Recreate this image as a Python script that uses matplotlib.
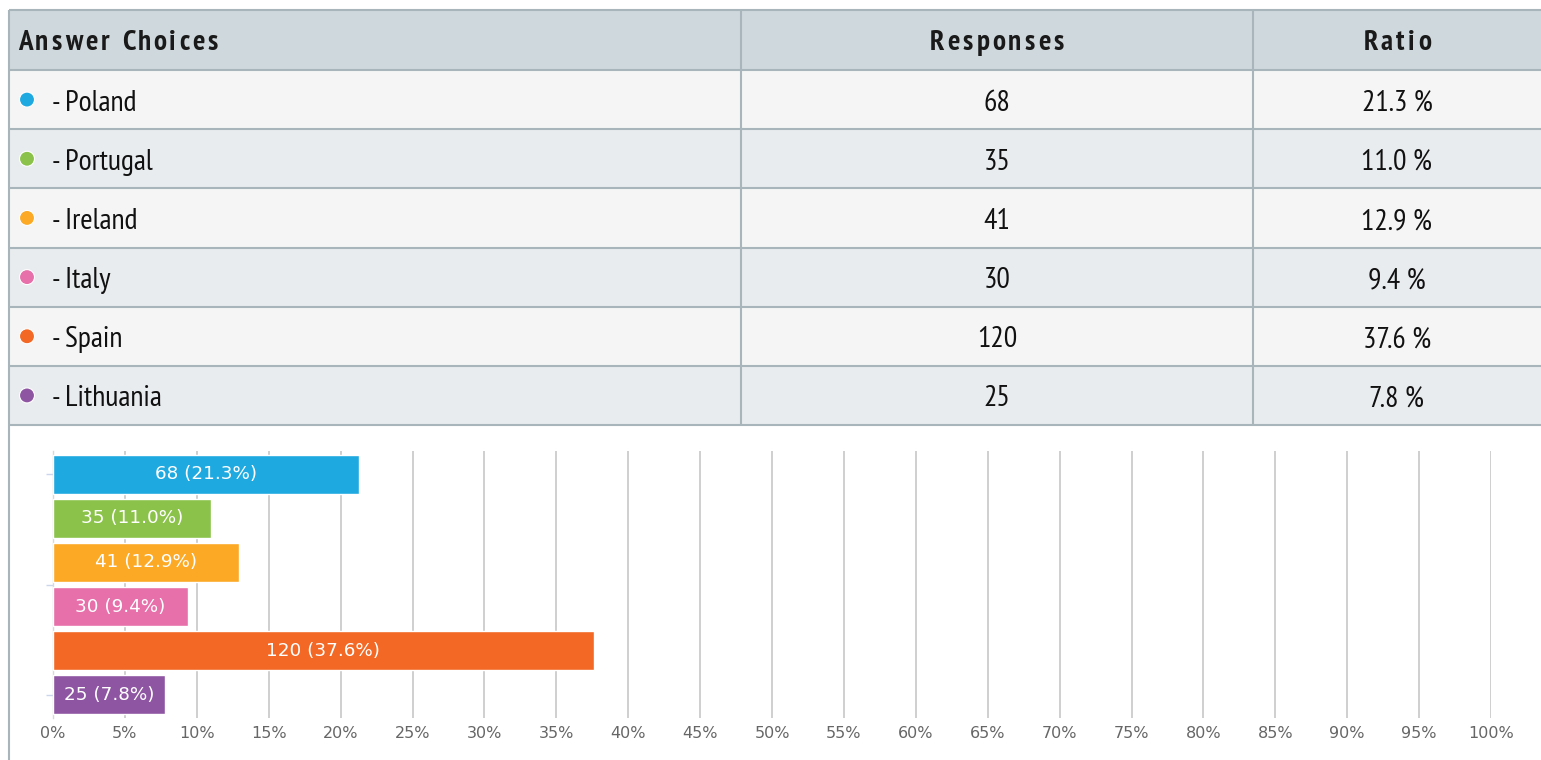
import matplotlib
matplotlib.use("Agg")
import matplotlib.pyplot as plt
from matplotlib.patches import Rectangle, Circle

# data
choices = ["Poland", "Portugal", "Ireland", "Italy", "Spain", "Lithuania"]
responses = [68, 35, 41, 30, 120, 25]
ratios = [21.3, 11.0, 12.9, 9.4, 37.6, 7.8]
colors = ["#1fa9e1", "#8bc34a", "#fca926", "#e76faa", "#f26824", "#8e56a2"]
headers = ["Answer Choices", "Responses", "Ratio"]
xticks = list(range(0, 101, 5))

W, H = 1541, 760
NARROW = ["PT Sans Narrow", "DejaVu Sans"]
border = "#a8b6bb"

fig = plt.figure(figsize=(W / 100, H / 100), dpi=100)
fig.patch.set_facecolor("white")

# background axes in pixel coordinates for the table
bg = fig.add_axes([0, 0, 1, 1])
bg.set_xlim(0, W)
bg.set_ylim(H, 0)
bg.axis("off")

left, col1, col2, right = 9, 741, 1253, W
top, head_bot, row_h = 10, 70, 59.17
row_bounds = [head_bot + i * row_h for i in range(len(choices) + 1)]

bg.add_patch(Rectangle((left, top), right - left, head_bot - top, color="#cfd8dc", lw=0))
for i in range(len(choices)):
    fc = "#f5f5f5" if i % 2 == 0 else "#e8ecee"
    bg.add_patch(Rectangle((left, row_bounds[i]), right - left, row_h, color=fc, lw=0))

lw = 1.5
bg.hlines([top] + row_bounds, left, right, color=border, lw=lw)
bg.vlines([col1, col2], top, row_bounds[-1], color=border, lw=lw)
bg.vlines(left, top, H, color=border, lw=lw)

renderer = fig.canvas.get_renderer()


def spaced_text(x, y, s, spacing, ha="left", **kw):
    # draw letter-spaced text char by char
    t = bg.text(0, 0, "xx", **kw)
    wx = t.get_window_extent(renderer).width
    t.remove()
    widths = []
    for ch in s:
        t = bg.text(0, 0, "x" + ch + "x", **kw)
        widths.append(t.get_window_extent(renderer).width - wx)
        t.remove()
    total = sum(widths) + spacing * (len(s) - 1)
    x0 = x if ha == "left" else x - total / 2
    for ch, w in zip(s, widths):
        bg.text(x0, y, ch, ha="left", va="center", **kw)
        x0 += w + spacing


hy = (top + head_bot) / 2 + 3.5
hkw = dict(family=NARROW, fontsize=21, fontweight="bold", color="#1a1a1a")
spaced_text(18, hy, headers[0], 3.3, **hkw)
spaced_text((col1 + col2) / 2, hy, headers[1], 3.3, ha="center", **hkw)
spaced_text((col2 + right) / 2, hy, headers[2], 3.3, ha="center", **hkw)

for i, (name, n, p) in enumerate(zip(choices, responses, ratios)):
    yc = row_bounds[i] + row_h / 2 + 3.5
    bg.add_patch(Circle((27, yc - 3.5), 7.5, facecolor=colors[i], edgecolor="white", lw=0.8))
    bg.text(52, yc, "- " + name, ha="left", va="center", family=NARROW, fontsize=21.5, color="#111111")
    bg.text((col1 + col2) / 2, yc, str(n), ha="center", va="center", family=NARROW, fontsize=21.5, color="#111111")
    bg.text((col2 + right) / 2, yc, f"{p:.1f} %", ha="center", va="center", family=NARROW, fontsize=21.5, color="#111111")

# bar chart
ax_l, ax_r, ax_t, ax_b = 53, 1491, 451, 718
ax = fig.add_axes([ax_l / W, (H - ax_b) / H, (ax_r - ax_l) / W, (ax_b - ax_t) / H])
ax.set_facecolor("none")
ypos = list(range(len(choices)))
ax.barh(ypos, ratios, height=39 / 44, color=colors, edgecolor="white", linewidth=1, zorder=3)
for i, (n, p) in enumerate(zip(responses, ratios)):
    ax.text(p / 2, i, f"{n} ({p:.1f}%)", ha="center", va="center", color="white", fontsize=13.2, zorder=4)

ax.set_xlim(0, 100)
ax.set_ylim(len(choices) - 1 + 0.534, -0.534)
ax.set_xticks(xticks)
ax.set_xticklabels([f"{v}%" for v in xticks])
ax.set_yticks([0, 2.5, 5])
ax.set_yticklabels([])
ax.tick_params(axis="x", length=0, pad=6, labelsize=11.5, labelcolor="#666666")
ax.tick_params(axis="y", length=5, color="#ccd6eb", width=1)
ax.grid(axis="x", color="#cccccc", linewidth=1.3, zorder=0)
ax.set_axisbelow(True)
for s in ["top", "right", "bottom"]:
    ax.spines[s].set_visible(False)
ax.spines["left"].set_color("#d8d8d8")
ax.spines["left"].set_linewidth(1)

fig.savefig("out.png", dpi=100, facecolor="white")
